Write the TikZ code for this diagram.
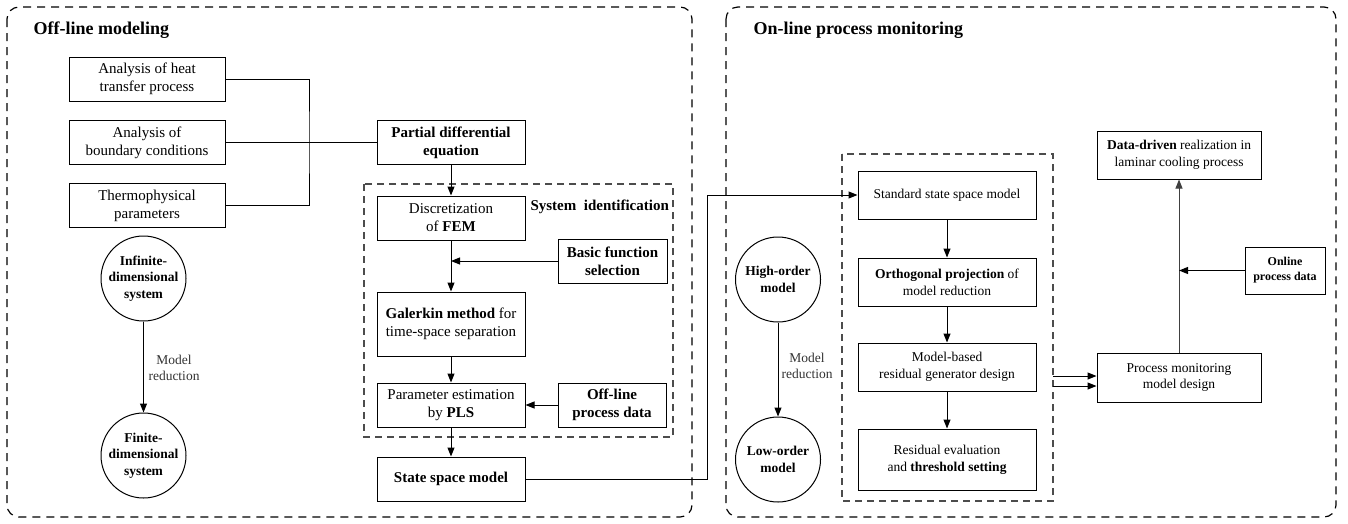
\documentclass[tikz,border=0pt]{standalone}
\usepackage{fontspec}
\setmainfont{Liberation Serif}
\usetikzlibrary{arrows.meta}

\tikzset{
  zone/.style={draw, line width=1.2pt, dash pattern=on 8pt off 6pt, rounded corners=12pt},
  group/.style={draw=black!70, line width=1.1pt, dash pattern=on 7pt off 5pt},
  blk/.style={draw, line width=1pt, align=center, inner sep=1pt, font=\fontsize{15}{18}\selectfont},
  rblk/.style={blk, font=\fontsize{13.5}{16.7}\selectfont},
  sys/.style={circle, draw, line width=1pt, minimum size=85pt, inner sep=0pt, align=center,
    font=\bfseries\fontsize{13.5}{16.3}\selectfont},
  note/.style={align=center, text=black!80, font=\fontsize{13.5}{16}\selectfont},
  ttl/.style={anchor=west, font=\bfseries\fontsize{18}{20}\selectfont},
  arr/.style={-{Triangle[length=9pt,width=7pt]}, line width=1pt},
  ln/.style={line width=1pt}
}

\begin{document}
\begin{tikzpicture}[x=1pt, y=-1pt]
\useasboundingbox (0,0) rectangle (1348,523);

\draw[zone] (7,7) rectangle (692,517);
\draw[zone] (726,7) rectangle (1336,517);
\node[ttl] (offttl) at (30,30) {Off-line modeling};
\node[ttl] (onttl) at (750,30) {On-line process monitoring};

\draw[group] (364,184) rectangle (673,437);
\draw[group] (842,154) rectangle (1053,501);

\node[blk, minimum width=156pt, minimum height=44pt] (heat) at (147,79) {Analysis of heat\\transfer process};
\node[blk, minimum width=156pt, minimum height=44pt] (bound) at (147,142.5) {Analysis of\\boundary conditions};
\node[blk, minimum width=156pt, minimum height=44pt] (thermo) at (147,205.5) {Thermophysical\\parameters};
\node[blk, minimum width=148pt, minimum height=44pt, font=\bfseries\fontsize{15}{18}\selectfont] (pde) at (451,142.5) {Partial differential\\equation};
\node[blk, minimum width=148pt, minimum height=44pt] (disc) at (451,218) {Discretization\\of \textbf{FEM}};
\node[anchor=west, font=\bfseries\fontsize{15}{18}\selectfont] (sysid) at (527,207) {System\ \ identification};
\node[blk, minimum width=109pt, minimum height=44pt, font=\bfseries\fontsize{15}{18}\selectfont] (basic) at (612.5,261) {Basic function\\selection};
\node[blk, minimum width=148pt, minimum height=64pt] (galerkin) at (451,324) {\textbf{Galerkin method} for\\time-space separation};
\node[blk, minimum width=148pt, minimum height=44pt] (param) at (451,405) {Parameter estimation\\by \textbf{PLS}};
\node[blk, minimum width=108pt, minimum height=44pt, font=\bfseries\fontsize{15}{18}\selectfont] (offdata) at (612,405) {Off-line\\process data};
\node[blk, minimum width=148pt, minimum height=44pt, font=\bfseries\fontsize{15}{18}\selectfont] (ssm) at (451,479) {State space model};

\node[sys] (inf) at (143.5,278.5) {Infinite-\\dimensional\\system};
\node[sys] (fin) at (143.5,455.5) {Finite-\\dimensional\\system};
\node[note] (red1) at (174,367.5) {Model\\reduction};

\node[rblk, minimum width=178pt, minimum height=48pt] (std) at (947,195) {Standard state space model};
\node[rblk, minimum width=178pt, minimum height=48pt] (ortho) at (947,282) {\textbf{Orthogonal projection} of\\model reduction};
\node[rblk, minimum width=178pt, minimum height=48pt] (mbased) at (947,367) {Model-based\\residual generator design};
\node[rblk, minimum width=178pt, minimum height=61pt] (resid) at (947,459.5) {Residual evaluation\\and \textbf{threshold setting}};
\node[sys] (high) at (778,279.5) {High-order\\model};
\node[sys] (low) at (778,459.5) {Low-order\\model};
\node[note] (red2) at (807,365.5) {Model\\reduction};
\node[rblk, minimum width=164pt, minimum height=48pt] (ddr) at (1179,155) {\textbf{Data-driven} realization in\\laminar cooling process};
\node[rblk, minimum width=164pt, minimum height=49pt] (pmon) at (1179,377.5) {Process monitoring\\model design};
\node[blk, minimum width=80pt, minimum height=47pt, font=\bfseries\fontsize{12}{15}\selectfont] (online) at (1285,270.5) {Online\\process data};

\coordinate (jn) at (309,142.5);
\coordinate (tx) at (707,479);
\coordinate (o1) at (1053,376);
\coordinate (o2) at (1053,386);

\draw[ln] (heat.east) -| (jn) |- (thermo.east);
\draw[ln] (bound.east) -- (pde.west);
\draw[arr] (pde) -- (disc);
\draw[arr] (disc) -- (galerkin);
\draw[arr] (basic.west) -- (basic.west -| disc.south);
\draw[arr] (galerkin) -- (param);
\draw[arr] (offdata) -- (param);
\draw[arr] (param) -- (ssm);
\draw[arr] (inf) -- (fin);
\draw[arr] (ssm.east) -- (tx) |- (std.west);
\draw[arr] (std) -- (ortho);
\draw[arr] (ortho) -- (mbased);
\draw[arr] (mbased) -- (resid);
\draw[arr] (high) -- (low);
\draw[arr] (o1) -- (o1 -| pmon.west);
\draw[arr] (o2) -- (o2 -| pmon.west);
\draw[arr, draw=black!75] (pmon) -- (ddr);
\draw[arr] (online.west) -- (online.west -| pmon.north);
\end{tikzpicture}
\end{document}
